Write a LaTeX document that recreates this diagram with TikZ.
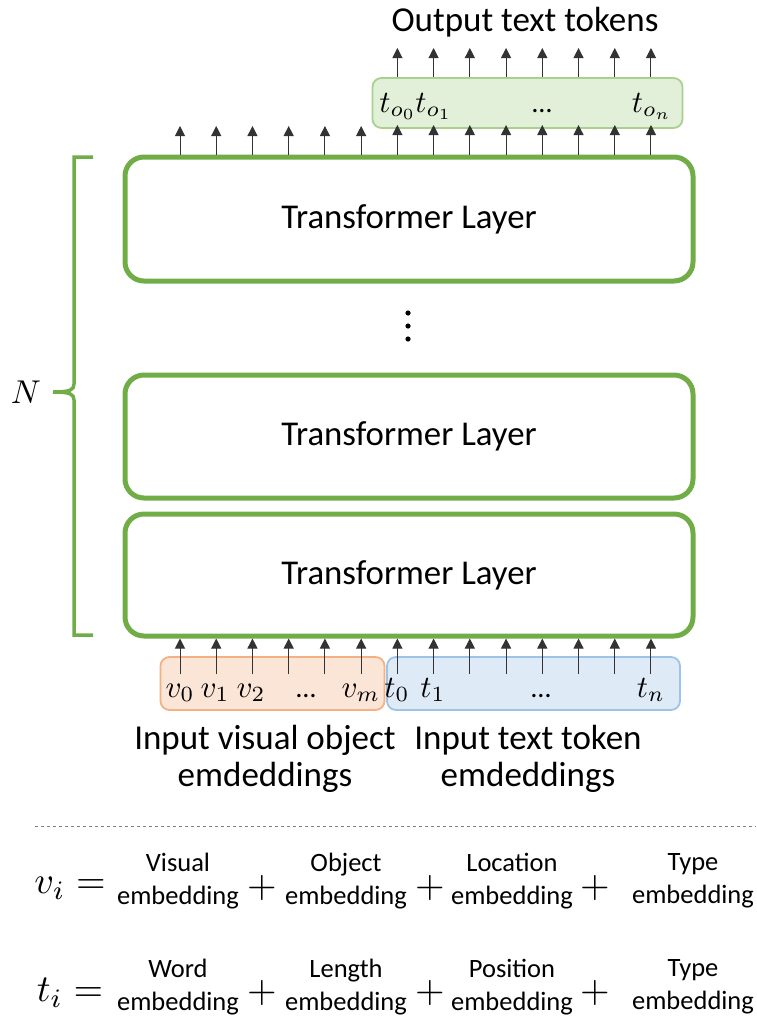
\documentclass[tikz,border=0pt]{standalone}
\usepackage{fontspec}
\setmainfont{Carlito}
\usetikzlibrary{arrows.meta}
\definecolor{lgreen}{HTML}{70AD47}
\definecolor{ofill}{HTML}{FBE5D6}
\definecolor{oline}{HTML}{F4B183}
\definecolor{bfill}{HTML}{DEEBF7}
\definecolor{bline}{HTML}{9DC3E6}
\definecolor{gfill}{HTML}{E2F0D9}
\definecolor{gline}{HTML}{A9D18E}
\begin{document}
\begin{tikzpicture}[x=1pt,y=-1pt,
  layer/.style={draw=lgreen,line width=5pt,rounded corners=19pt,minimum width=568pt,inner sep=0pt,font=\fontsize{34.8}{42}\selectfont},
  tokbox/.style={line width=1.8pt,rounded corners=9pt,minimum height=53pt,inner sep=0pt},
  arr/.style={draw=black!80,line width=1pt,-{Triangle[length=10pt,width=10pt]}},
  lab/.style={font=\fontsize{35}{40}\selectfont,align=center,inner sep=0pt},
  tok/.style={inner sep=0pt,anchor=base,scale=3.1},
  dots/.style={inner sep=0pt,anchor=base,font=\fontsize{28}{32}\selectfont},
  emb/.style={font=\fontsize{26.5}{33}\selectfont,align=center,inner sep=0pt},
  eq/.style={inner sep=0pt,scale=3.8}]
\useasboundingbox (0,0) rectangle (756,1017);

% transformer layers
\node[layer,minimum height=124pt] (L3) at (409,219) {Transformer Layer};
\node[layer,minimum height=123pt] (L2) at (409,436.5) {Transformer Layer};
\node[layer,minimum height=122pt] (L1) at (409,575) {Transformer Layer};

% vertical dots
\foreach \y in {313,326,339}
  \fill (408,\y) circle[radius=2.6pt];

% brace
\draw[lgreen,line width=3.5pt] (93,157) -- (74,157) -- (74,384)
  .. controls (74,390) and (70,392) .. (53,392)
  .. controls (70,392) and (74,394) .. (74,400) -- (74,635) -- (93,635);
\node[scale=3.3] (N) at (26,392) {$N$};

% input boxes
\node[tokbox,draw=oline,fill=ofill,minimum width=224pt] (vin) at (272.5,683.5) {};
\node[tokbox,draw=bline,fill=bfill,minimum width=293pt] (tin) at (533.5,683.5) {};
% output box
\node[tokbox,draw=gline,fill=gfill,minimum width=310pt,minimum height=50pt] (tout) at (527.5,103) {};

% input token labels
\foreach \x/\t in {180/v_0,215/v_1,251/v_2,361/v_m,397/t_0,433/t_1,651/t_n}
  \node[tok] at (\x,697) {$\t$};
\node[dots] at (306,697) {…};
\node[dots] at (541,697) {…};

% output token labels
\foreach \x/\t in {398/t_{o_0},434/t_{o_1},652/t_{o_n}}
  \node[tok] at (\x,112) {$\t$};
\node[dots] at (542,112) {…};

% arrows into the first layer
\foreach \i [count=\k] in {0,...,13}{
  \coordinate (b\k) at ({180+36.23*\i},674);
  \draw[arr] (b\k) -- (b\k |- L1.south);
}
% arrows out of the top layer
\foreach \i [count=\k] in {0,...,5}{
  \coordinate (u\k) at ({180+36.23*\i},126);
  \draw[arr] (u\k |- L3.north) -- (u\k);
}
\foreach \i [count=\k] in {6,...,13}{
  \coordinate (o\k) at ({180+36.23*\i},48);
  \coordinate (m\k) at ({180+36.23*\i},125);
  \draw[arr] (o\k |- L3.north) -- (m\k);
  \draw[arr] (o\k |- tout.north) -- (o\k);
}

% labels
\node[lab] (out) at (525,22) {Output text tokens};
\node[lab] (vl) at (265,759) {Input visual object\\[-3pt]emdeddings};
\node[lab] (tl) at (528,759) {Input text token\\[-3pt]emdeddings};

% separator
\draw[black!50,dashed,line width=0.8pt] (35,826) -- (756,826);

% equations
\node[eq] (vi) at (70,888) {$v_i =$};
\node[emb] (ve1) at (178,881) {Visual\\embedding};
\node[eq] (p1) at (262,888) {$+$};
\node[emb] (ve2) at (346,881) {Object\\embedding};
\node[eq] (p2) at (430,888) {$+$};
\node[emb] (ve3) at (512,881) {Location\\embedding};
\node[eq] (p3) at (595,888) {$+$};
\node[emb] (ve4) at (693,881) {Type\\embedding};

\node[eq] (ti) at (70,993) {$t_i =$};
\node[emb] (te1) at (178,987) {Word\\embedding};
\node[eq] (q1) at (262,993) {$+$};
\node[emb] (te2) at (346,987) {Length\\embedding};
\node[eq] (q2) at (430,993) {$+$};
\node[emb] (te3) at (512,987) {Position\\embedding};
\node[eq] (q3) at (595,993) {$+$};
\node[emb] (te4) at (693,987) {Type\\embedding};
\end{tikzpicture}
\end{document}
